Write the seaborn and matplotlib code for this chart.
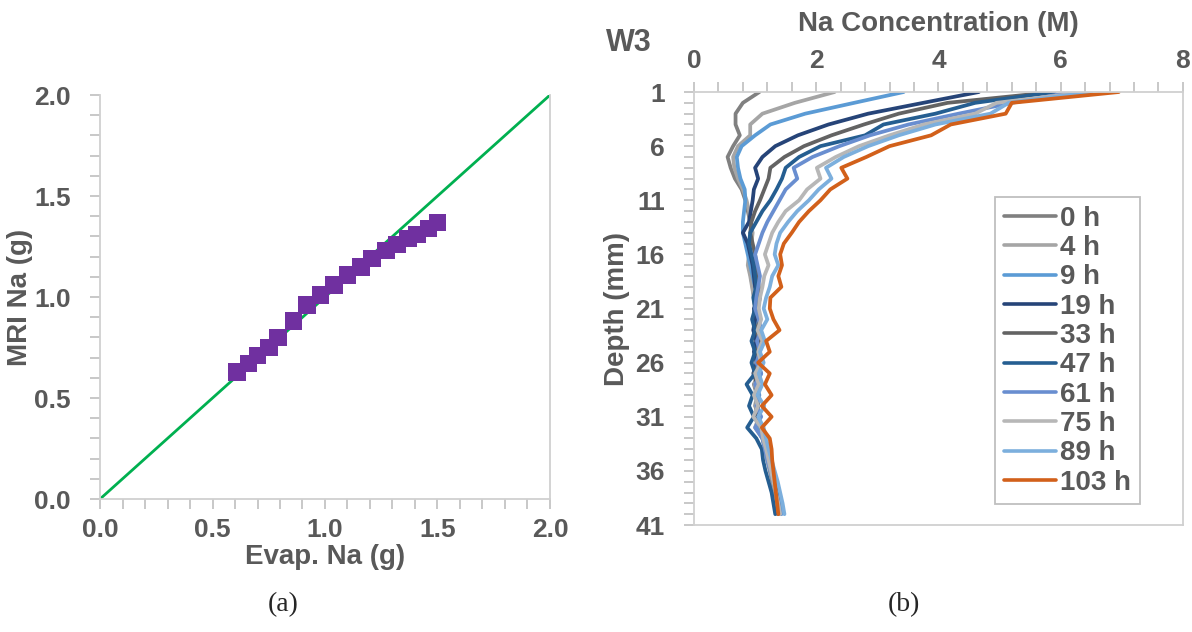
import pandas as pd
import seaborn as sns
import matplotlib.pyplot as plt
from matplotlib.ticker import MultipleLocator

# (a) MRI vs evaporated Na
evap_na = [0.61, 0.66, 0.70, 0.75, 0.79, 0.86, 0.92, 0.98, 1.04, 1.10,
           1.16, 1.21, 1.27, 1.32, 1.37, 1.41, 1.46, 1.50]
mri_na = [0.63, 0.67, 0.71, 0.75, 0.80, 0.88, 0.96, 1.01, 1.06, 1.11,
          1.15, 1.19, 1.23, 1.26, 1.29, 1.31, 1.34, 1.37]
one_to_one = [0.0, 2.0]

# (b) W3 Na profiles, depth 1..40 mm
depth_mm = list(range(1, 41))
times = ['0 h', '4 h', '9 h', '19 h', '33 h', '47 h', '61 h', '75 h', '89 h', '103 h']
conc_0h = [1.07, 0.80, 0.68, 0.68, 0.75, 0.64, 0.55, 0.60, 0.67, 0.78, 0.84, 0.88, 0.92, 0.95,
           0.93, 0.92, 0.90, 0.93, 0.96, 0.98, 1.00, 0.97, 1.02, 0.99, 1.04, 1.00, 1.06, 0.98,
           1.03, 1.00, 1.07, 1.02, 1.12, 1.17, 1.20, 1.24, 1.28, 1.31, 1.34, 1.37]
conc_4h = [2.30, 1.65, 1.12, 0.92, 0.92, 0.72, 0.64, 0.66, 0.72, 0.80, 0.86, 0.90, 0.92, 0.96,
           0.94, 0.90, 0.88, 0.92, 0.95, 0.98, 1.00, 0.99, 1.03, 1.00, 1.05, 1.01, 1.05, 0.99,
           1.04, 1.01, 1.06, 1.00, 1.12, 1.16, 1.20, 1.25, 1.29, 1.32, 1.35, 1.38]
conc_9h = [3.43, 2.62, 1.82, 1.25, 1.00, 0.78, 0.70, 0.72, 0.76, 0.83, 0.84, 0.82, 0.80, 0.80,
           0.84, 0.88, 0.92, 0.96, 1.00, 1.02, 1.04, 1.02, 1.06, 1.03, 1.08, 1.04, 1.10, 1.02,
           1.07, 1.03, 1.08, 1.02, 1.13, 1.18, 1.22, 1.27, 1.32, 1.36, 1.40, 1.43]
conc_19h = [4.66, 3.75, 2.85, 2.20, 1.70, 1.33, 1.12, 1.00, 1.05, 0.98, 0.96, 0.93, 0.90, 0.80,
            0.88, 0.92, 0.96, 0.98, 1.00, 1.05, 0.98, 1.00, 0.97, 1.02, 0.98, 1.03, 0.97, 1.04,
            1.00, 1.05, 0.99, 1.10, 1.15, 1.19, 1.23, 1.27, 1.31, 1.35, 1.38, 1.40]
conc_33h = [5.88, 4.15, 3.35, 2.78, 2.25, 1.80, 1.48, 1.25, 1.22, 1.15, 1.08, 1.00, 0.94, 0.92,
            0.96, 1.00, 1.02, 1.04, 1.06, 1.08, 1.04, 1.08, 1.02, 1.08, 1.03, 1.07, 0.98, 1.04,
            1.00, 1.05, 0.98, 1.10, 1.14, 1.18, 1.22, 1.26, 1.30, 1.34, 1.37, 1.39]
conc_47h = [5.90, 4.60, 3.95, 3.10, 2.80, 2.07, 1.72, 1.50, 1.44, 1.35, 1.25, 1.12, 1.02, 0.92,
            0.90, 0.94, 0.98, 1.00, 1.02, 0.97, 1.00, 0.95, 1.00, 0.94, 1.00, 0.94, 1.00, 0.86,
            0.96, 0.90, 0.98, 0.87, 1.02, 1.11, 1.13, 1.17, 1.22, 1.27, 1.30, 1.33]
conc_61h = [6.20, 5.20, 4.33, 3.51, 2.88, 2.38, 1.94, 1.63, 1.69, 1.50, 1.40, 1.30, 1.20, 1.12,
            1.06, 1.00, 1.04, 1.08, 1.05, 1.02, 1.00, 1.06, 1.10, 1.03, 1.08, 1.02, 1.10, 1.00,
            1.06, 1.02, 1.10, 1.00, 1.12, 1.16, 1.20, 1.25, 1.30, 1.34, 1.38, 1.42]
conc_75h = [6.45, 4.95, 4.60, 3.76, 3.20, 2.70, 2.32, 2.01, 2.07, 1.85, 1.72, 1.50, 1.38, 1.28,
            1.22, 1.16, 1.22, 1.15, 1.12, 1.08, 1.06, 1.10, 1.04, 1.12, 1.05, 1.10, 1.00, 1.06,
            0.98, 1.05, 0.97, 1.10, 1.13, 1.18, 1.22, 1.26, 1.30, 1.34, 1.38, 1.41]
conc_89h = [6.50, 5.15, 4.85, 3.95, 3.35, 2.85, 2.45, 2.16, 2.25, 2.04, 1.88, 1.69, 1.54, 1.41,
            1.35, 1.32, 1.38, 1.28, 1.24, 1.18, 1.14, 1.20, 1.10, 1.16, 1.08, 1.14, 1.06, 1.12,
            1.04, 1.15, 1.05, 1.14, 1.18, 1.22, 1.27, 1.32, 1.37, 1.41, 1.45, 1.48]
conc_103h = [6.95, 5.20, 5.10, 4.20, 3.88, 3.20, 2.82, 2.41, 2.51, 2.23, 2.07, 1.88, 1.72, 1.60,
             1.47, 1.41, 1.44, 1.38, 1.43, 1.25, 1.24, 1.30, 1.40, 1.18, 1.24, 1.05, 1.24, 1.16,
             1.27, 1.11, 1.27, 1.11, 1.24, 1.27, 1.28, 1.30, 1.32, 1.34, 1.36, 1.38]
line_colors = ['#808080', '#a5a5a5', '#5b9bd5', '#264478', '#636363',
               '#255e91', '#698ed0', '#b7b7b7', '#7cafdd', '#d2601a']

profiles = [conc_0h, conc_4h, conc_9h, conc_19h, conc_33h,
            conc_47h, conc_61h, conc_75h, conc_89h, conc_103h]
prof = pd.concat([pd.DataFrame({'time': t, 'depth': depth_mm, 'conc': c})
                  for t, c in zip(times, profiles)], ignore_index=True)
pts = pd.DataFrame({'evap': evap_na, 'mri': mri_na})
diag = pd.DataFrame({'x': one_to_one, 'y': one_to_one})

sns.set_theme(style="white")
plt.rcParams['font.family'] = ['Liberation Sans', 'DejaVu Sans']
plt.rcParams['font.weight'] = 'bold'
txt = '#595959'
grid_c = '#bfbfbf'
fs = 19

fig = plt.figure(figsize=(11.92, 6.32), dpi=100)
ax1 = fig.add_axes([0.0839, 0.2104, 0.3775, 0.6392])
ax2 = fig.add_axes([0.5822, 0.1693, 0.4102, 0.6851])

# ---- (a)
sns.lineplot(data=diag, x='x', y='y', color='#00b050', lw=2.0, ax=ax1)
sns.scatterplot(data=pts, x='evap', y='mri', marker='s', s=160, color='#7030a0',
                edgecolor='none', zorder=3, ax=ax1)
ax1.set_xlim(0, 2)
ax1.set_ylim(0, 2)
ax1.xaxis.set_major_locator(MultipleLocator(0.5))
ax1.yaxis.set_major_locator(MultipleLocator(0.5))
ax1.xaxis.set_minor_locator(MultipleLocator(0.1))
ax1.yaxis.set_minor_locator(MultipleLocator(0.1))
ax1.set_xticklabels([f'{v:.1f}' for v in ax1.get_xticks()])
ax1.set_yticklabels([f'{v:.1f}' for v in ax1.get_yticks()])
ax1.tick_params(which='both', direction='out', length=7, width=1.2, color=grid_c,
                bottom=True, left=True)
ax1.tick_params(axis='x', which='major', labelsize=fs, labelcolor=txt, pad=7)
ax1.tick_params(axis='y', which='major', labelsize=fs, labelcolor=txt, pad=14)
ax1.spines['top'].set_visible(False)
for s in ['left', 'bottom', 'right']:
    ax1.spines[s].set_color('#d0d0d0')
    ax1.spines[s].set_linewidth(1.3)
ax1.set_xlabel('Evap. Na (g)', fontsize=fs + 1, color=txt, fontweight='bold')
ax1.xaxis.set_label_coords(0.5, -0.112)
ax1.set_ylabel('MRI Na (g)', fontsize=fs + 1, color=txt, fontweight='bold')
ax1.yaxis.set_label_coords(-0.148, 0.5)

# ---- (b)
sns.lineplot(data=prof, x='conc', y='depth', hue='time', hue_order=times,
             palette=line_colors, sort=False, orient='y', estimator=None,
             lw=2.7, ax=ax2)
ax2.set_xlim(0, 8)
ax2.set_ylim(41, 1)
ax2.xaxis.tick_top()
ax2.xaxis.set_label_position('top')
ax2.set_xticks([0, 2, 4, 6, 8])
ax2.set_yticks([1, 6, 11, 16, 21, 26, 31, 36, 41])
ax2.xaxis.set_minor_locator(MultipleLocator(0.4))
ax2.yaxis.set_minor_locator(MultipleLocator(1))
ax2.tick_params(which='both', direction='out', length=7, width=1.2, color=grid_c,
                top=True, left=True, bottom=False)
ax2.tick_params(axis='x', which='major', labelsize=fs, labelcolor=txt, pad=7)
ax2.tick_params(axis='y', which='major', labelsize=fs, labelcolor=txt, pad=14)
for s in ax2.spines.values():
    s.set_color('#d0d0d0')
    s.set_linewidth(1.3)
ax2.set_xlabel('Na Concentration (M)', fontsize=fs + 1, color=txt, fontweight='bold')
ax2.xaxis.set_label_coords(0.5, 1.14)
ax2.set_ylabel('Depth (mm)', fontsize=fs + 1, color=txt, fontweight='bold', labelpad=4)
fig.text(629 / 1192, 1 - 43 / 632, 'W3', fontsize=22, color=txt, fontweight='bold',
         ha='center', va='center')

handles, labels = ax2.get_legend_handles_labels()
leg = ax2.legend(handles, labels, loc='upper left', bbox_to_anchor=(0.616, 0.757),
                 borderaxespad=0, frameon=True, fancybox=False, framealpha=1,
                 edgecolor=grid_c, fontsize=fs + 1, labelcolor=txt, handlelength=1.9,
                 handletextpad=0.15, labelspacing=0.12, borderpad=0.3)
leg.get_frame().set_linewidth(1.3)
for h in leg.get_lines():
    h.set_linewidth(2.6)

fig.text(283 / 1192, 1 - 605 / 632, '(a)', fontsize=20, fontweight='normal',
         family=['Liberation Serif', 'DejaVu Serif'], ha='center', va='center')
fig.text(904 / 1192, 1 - 605 / 632, '(b)', fontsize=20, fontweight='normal',
         family=['Liberation Serif', 'DejaVu Serif'], ha='center', va='center')

fig.savefig('out.png', dpi=100)
